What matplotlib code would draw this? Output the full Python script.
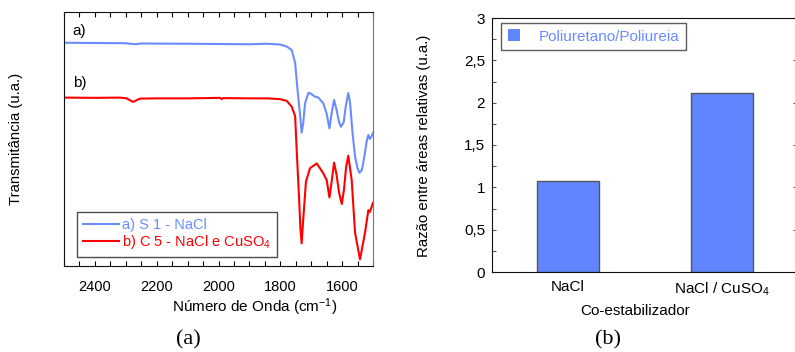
import matplotlib
matplotlib.use("Agg")
import matplotlib.pyplot as plt
from matplotlib.ticker import MultipleLocator, FixedLocator, NullLocator
from matplotlib.patches import Patch

plt.rcParams['font.family'] = ['Liberation Sans', 'DejaVu Sans']
plt.rcParams['mathtext.fontset'] = 'custom'
plt.rcParams['mathtext.rm'] = 'Liberation Sans'
plt.rcParams['mathtext.it'] = 'Liberation Sans'

# ---- Panel (a): FTIR spectra (wavenumber, relative transmittance) ----
wn_a = [2500, 2400, 2300, 2270, 2250, 2100, 2000, 1900, 1844, 1801, 1779, 1763,
        1752, 1744, 1736, 1731, 1726, 1720, 1709, 1700, 1690, 1677, 1661, 1650,
        1641, 1634, 1626, 1618, 1610, 1604, 1595, 1588, 1580, 1574, 1566, 1558,
        1550, 1544, 1536, 1528, 1520, 1515, 1510, 1505, 1500]
tr_a = [0.879, 0.878, 0.877, 0.873, 0.876, 0.875, 0.874, 0.873, 0.875, 0.872, 0.864, 0.850,
        0.800, 0.690, 0.595, 0.525, 0.560, 0.640, 0.682, 0.678, 0.668, 0.663, 0.641, 0.600,
        0.542, 0.600, 0.654, 0.615, 0.568, 0.548, 0.565, 0.630, 0.681, 0.640, 0.520, 0.430,
        0.385, 0.367, 0.378, 0.430, 0.495, 0.516, 0.500, 0.510, 0.524]

wn_b = [2500, 2400, 2320, 2297, 2277, 2254, 2200, 2100, 1995, 1990, 1985, 1900,
        1844, 1801, 1779, 1763, 1752, 1747, 1739, 1735, 1731, 1726, 1717, 1704,
        1682, 1661, 1650, 1641, 1634, 1626, 1618, 1610, 1601, 1594, 1587, 1580,
        1569, 1558, 1542, 1526, 1515, 1510, 1504, 1500]
tr_b = [0.663, 0.662, 0.663, 0.660, 0.646, 0.659, 0.660, 0.660, 0.662, 0.657, 0.661, 0.660,
        0.660, 0.657, 0.650, 0.627, 0.590, 0.457, 0.260, 0.150, 0.089, 0.180, 0.332, 0.385,
        0.404, 0.365, 0.339, 0.270, 0.330, 0.407, 0.360, 0.290, 0.244, 0.300, 0.390, 0.434,
        0.339, 0.130, 0.026, 0.130, 0.220, 0.213, 0.234, 0.249]

label_a = "a) S 1 - NaCl"
label_b = "b) C 5 - NaCl e CuSO$_4$"
color_a = "#6a8cff"
color_b = "#ff0000"

# ---- Panel (b): bar chart ----
categories = ["NaCl", "NaCl / CuSO$_4$"]
ratios = [1.07, 2.12]
bar_label = "Poliuretano/Poliureia"
bar_color = "#6185ff"
yticks_b = [0, 0.5, 1, 1.5, 2, 2.5, 3]
yticklabels_b = ["0", "0,5", "1", "1,5", "2", "2,5", "3"]

W, H = 795, 352
fig = plt.figure(figsize=(W / 100, H / 100), dpi=100)

def box(l, t, r, b):
    return [l / W, 1 - b / H, (r - l) / W, (b - t) / H]

# ----- left panel -----
ax1 = fig.add_axes(box(64, 12, 373, 266))
ax1.plot(wn_a, tr_a, color=color_a, lw=1.5, label=label_a)
ax1.plot(wn_b, tr_b, color=color_b, lw=1.5, label=label_b)
ax1.set_xlim(2500, 1500)
ax1.set_ylim(0, 1)
ax1.xaxis.set_major_locator(MultipleLocator(200))
ax1.xaxis.set_minor_locator(MultipleLocator(50))
ax1.yaxis.set_major_locator(NullLocator())
ax1.tick_params(axis='x', which='both', direction='in', top=True, length=3.5,
                width=0.8, labelsize=10.5, pad=10)
for s in ['left', 'bottom', 'top']:
    ax1.spines[s].set_color('#111111')
ax1.spines['right'].set_color('#777777')
ax1.set_xlabel("Número de Onda (cm$^{-1}$)", fontsize=11)
ax1.xaxis.set_label_coords((255 - 64) / 309, -(304 - 266) / 254 + 0.03)
ax1.set_ylabel("Transmitância (u.a.)", fontsize=10.7)
ax1.yaxis.set_label_coords(-(64 - 15) / 309 + 0.025, 0.5)
ax1.text(0.028, (266 - 31) / 254, "a)", transform=ax1.transAxes, fontsize=11,
         va='center', ha='left')
ax1.text(0.028, (266 - 83) / 254, "b)", transform=ax1.transAxes, fontsize=11,
         va='center', ha='left')
leg1 = ax1.legend(loc='lower left', bbox_to_anchor=(0.042, 0.035), fontsize=10.5,
                  frameon=True, fancybox=False, handlelength=2.5, handletextpad=0.2,
                  borderpad=0.4, labelspacing=0.1, borderaxespad=0)
leg1.get_frame().set_edgecolor('#222222')
leg1.get_frame().set_linewidth(1.0)
for t, c in zip(leg1.get_texts(), [color_a, color_b]):
    t.set_color(c)

fig.text(188 / W, 1 - 340 / H, "(a)", fontsize=16, family='Liberation Serif',
         ha='center', va='center')

# ----- right panel -----
ax2 = fig.add_axes(box(492, 18, 797, 272))
x = list(range(len(categories)))
ax2.bar(x, ratios, width=0.4, color=bar_color, edgecolor='#555555', linewidth=1.0)
ax2.set_xlim(-0.494, 1.487)
ax2.set_ylim(0, 3)
ax2.set_xticks(x)
ax2.set_xticklabels(categories, fontsize=11)
ax2.tick_params(axis='x', length=0, pad=6)
ax2.yaxis.set_major_locator(FixedLocator(yticks_b))
ax2.set_yticklabels(yticklabels_b, fontsize=11)
ax2.yaxis.set_minor_locator(MultipleLocator(0.25))
ax2.tick_params(axis='y', which='major', direction='in', right=True, length=3,
                width=0.8, color='#555555', pad=5)
ax2.tick_params(axis='y', which='minor', direction='in', length=3, width=0.8,
                color='#555555')
ax2.spines['right'].set_visible(False)
for s in ['left', 'bottom', 'top']:
    ax2.spines[s].set_color('#111111')
ax2.set_xlabel("Co-estabilizador", fontsize=11)
ax2.xaxis.set_label_coords((635 - 492) / 305, -(310 - 272) / 254 + 0.025)
ax2.set_ylabel("Razão entre áreas relativas (u.a.)", fontsize=10.8)
ax2.yaxis.set_label_coords(-(492 - 426) / 305 + 0.015, (272 - 146) / 254)
handle = Patch(facecolor=bar_color, edgecolor='none')
leg2 = ax2.legend([handle], [bar_label], loc='upper left',
                  bbox_to_anchor=(0.0295, 0.982), fontsize=11, frameon=True,
                  fancybox=False, handlelength=0.8, handleheight=0.8,
                  handletextpad=1.2, borderpad=0.45, borderaxespad=0)
leg2.get_frame().set_edgecolor('#333333')
leg2.get_frame().set_linewidth(1.0)
leg2.get_texts()[0].set_color(color_a)

fig.text(608 / W, 1 - 340 / H, "(b)", fontsize=16, family='Liberation Serif',
         ha='center', va='center')

fig.savefig("out.png", dpi=100)
